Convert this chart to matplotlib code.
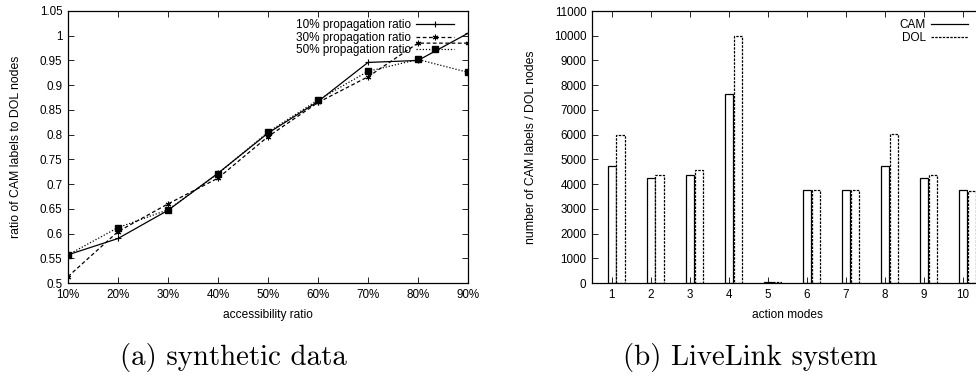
import numpy as np
import matplotlib
matplotlib.use('Agg')
import matplotlib.pyplot as plt
from matplotlib.lines import Line2D

plt.rcParams['font.family'] = ['Liberation Sans', 'DejaVu Sans']
plt.rcParams['font.size'] = 8

# (a) synthetic data
access = [10, 20, 30, 40, 50, 60, 70, 80, 90]
prop10 = [0.557, 0.590, 0.647, 0.722, 0.803, 0.867, 0.946, 0.950, 1.005]
prop30 = [0.513, 0.604, 0.660, 0.712, 0.796, 0.865, 0.917, 0.985, 0.985]
prop50 = [0.557, 0.612, 0.648, 0.721, 0.805, 0.870, 0.928, 0.952, 0.926]
yticks_a = [0.5, 0.55, 0.6, 0.65, 0.7, 0.75, 0.8, 0.85, 0.9, 0.95, 1, 1.05]

# (b) LiveLink system
modes = [1, 2, 3, 4, 5, 6, 7, 8, 9, 10]
cam = [4750, 4250, 4350, 7650, 40, 3770, 3750, 4750, 4250, 3750]
dol = [6000, 4350, 4550, 10000, 30, 3750, 3750, 6030, 4350, 3720]

fig = plt.figure(figsize=(9.76, 3.76), dpi=100)

W, H = 976.0, 376.0
ax1 = fig.add_axes([68 / W, 1 - 283 / H, 400 / W, 272 / H])
ax2 = fig.add_axes([592 / W, 1 - 283 / H, 390.5 / W, 272 / H])

for ax in (ax1, ax2):
    ax.tick_params(direction='in', top=True, right=True, length=4, width=0.6,
                   labelsize=8.4, pad=4)
    for s in ax.spines.values():
        s.set_linewidth(0.9)

# left panel
ax1.plot(access, prop10, color='black', lw=0.9, ls='-', marker='+', ms=5, mew=0.8,
         label='10% propagation ratio')
ax1.plot(access, prop30, color='black', lw=0.9, ls=(0, (3, 2)), marker=(6, 2, 0), ms=4,
         mew=0.8, label='30% propagation ratio')
ax1.plot(access, prop50, color='black', lw=0.9, ls=(0, (1, 1.5)), marker='s', ms=4.5,
         label='50% propagation ratio')
ax1.set_xlim(10, 90)
ax1.set_ylim(0.5, 1.05)
ax1.set_xticks(access)
ax1.set_xticklabels(['%d%%' % a for a in access])
ax1.set_yticks(yticks_a)
ax1.set_yticklabels(['%g' % v for v in yticks_a])
ax1.set_xlabel('accessibility ratio', fontsize=8.6, labelpad=6)
ax1.set_ylabel('ratio of CAM labels to DOL nodes', fontsize=8.8, labelpad=13)
ax1.legend(loc='upper right', frameon=False, fontsize=8.5, markerfirst=False,
           handlelength=3.2, handletextpad=0.4, labelspacing=0.05,
           borderaxespad=0.3, bbox_to_anchor=(0.985, 1.0))

# right panel
x = np.array(modes, dtype=float)
ax2.bar(x + 0.01, cam, width=0.21, facecolor='white', edgecolor='black', lw=0.9,
        label='CAM')
ax2.bar(x + 0.23, dol, width=0.21, facecolor='white', edgecolor='black', lw=0.9,
        ls=(0, (2, 1)), label='DOL')
ax2.set_xlim(0.5, 10.5)
ax2.set_ylim(0, 11000)
ax2.set_xticks(modes)
ax2.set_yticks(np.arange(0, 11001, 1000))
ax2.set_xlabel('action modes', fontsize=8.6, labelpad=6)
ax2.set_ylabel('number of CAM labels / DOL nodes', fontsize=8.8, labelpad=12)
handles = [Line2D([], [], color='black', lw=0.9, ls='-'),
           Line2D([], [], color='black', lw=0.9, ls=(0, (2, 1)))]
ax2.legend(handles, ['CAM', 'DOL'], loc='upper right', frameon=False, fontsize=8.5,
           markerfirst=False, handlelength=3.2, handletextpad=0.4, labelspacing=0.05,
           borderaxespad=0.3, bbox_to_anchor=(0.985, 1.0))

# captions
fig.text(233 / W, 1 - 357 / H, '(a) synthetic data', family='cmr10', fontsize=20.8,
         ha='center', va='center')
fig.text(750 / W, 1 - 357 / H, '(b) LiveLink system', family='cmr10', fontsize=20.8,
         ha='center', va='center')

fig.savefig('out.png', dpi=100)
